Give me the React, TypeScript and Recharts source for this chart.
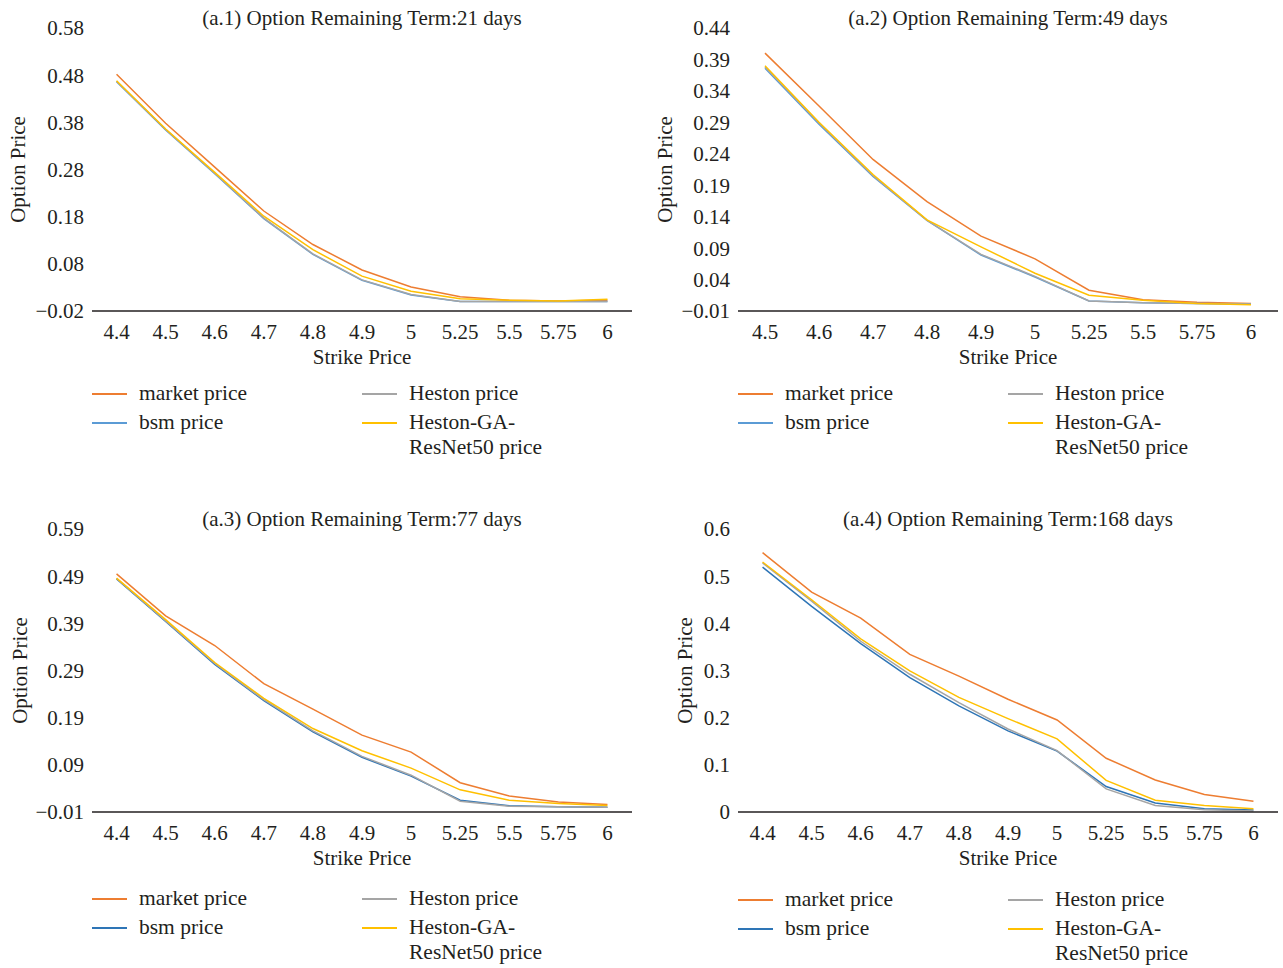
import React from "react";
import { LineChart, Line, XAxis, YAxis } from "recharts";

// strike prices on the x axis
const strikesA = ["4.4", "4.5", "4.6", "4.7", "4.8", "4.9", "5", "5.25", "5.5", "5.75", "6"];
const strikesB = ["4.5", "4.6", "4.7", "4.8", "4.9", "5", "5.25", "5.5", "5.75", "6"];

// (a.1) 21 days
const market21 = [0.482, 0.378, 0.285, 0.192, 0.121, 0.067, 0.031, 0.010, 0.003, 0.001, 0.003];
const bsm21 = [0.466, 0.364, 0.271, 0.176, 0.100, 0.045, 0.014, 0.000, 0.000, 0.000, 0.000];
const heston21 = [0.467, 0.365, 0.272, 0.177, 0.101, 0.046, 0.015, 0.000, 0.000, 0.000, 0.000];
const ga21 = [0.468, 0.366, 0.274, 0.181, 0.110, 0.054, 0.022, 0.006, 0.003, 0.001, 0.005];
const ticks21 = [-0.02, 0.08, 0.18, 0.28, 0.38, 0.48, 0.58];

// (a.2) 49 days
const market49 = [0.400, 0.316, 0.231, 0.164, 0.109, 0.073, 0.023, 0.008, 0.004, 0.002];
const bsm49 = [0.376, 0.287, 0.204, 0.134, 0.079, 0.044, 0.006, 0.003, 0.002, 0.001];
const heston49 = [0.378, 0.289, 0.205, 0.134, 0.080, 0.045, 0.006, 0.003, 0.002, 0.001];
const ga49 = [0.380, 0.290, 0.207, 0.135, 0.092, 0.050, 0.015, 0.007, 0.002, 0.000];
const ticks49 = [-0.01, 0.04, 0.09, 0.14, 0.19, 0.24, 0.29, 0.34, 0.39, 0.44];

// (a.3) 77 days
const market77 = [0.495, 0.406, 0.343, 0.262, 0.208, 0.153, 0.117, 0.052, 0.024, 0.011, 0.006];
const bsm77 = [0.484, 0.394, 0.303, 0.226, 0.160, 0.106, 0.066, 0.015, 0.003, 0.001, 0.000];
const heston77 = [0.485, 0.395, 0.305, 0.228, 0.162, 0.108, 0.068, 0.013, 0.002, 0.001, 0.000];
const ga77 = [0.486, 0.398, 0.307, 0.231, 0.167, 0.120, 0.083, 0.037, 0.015, 0.008, 0.004];
const ticks77 = [-0.01, 0.09, 0.19, 0.29, 0.39, 0.49, 0.59];

// (a.4) 168 days
const market168 = [0.550, 0.466, 0.411, 0.334, 0.288, 0.239, 0.195, 0.114, 0.068, 0.037, 0.023];
const bsm168 = [0.519, 0.436, 0.357, 0.285, 0.225, 0.172, 0.129, 0.054, 0.019, 0.007, 0.004];
const heston168 = [0.528, 0.447, 0.362, 0.292, 0.232, 0.176, 0.130, 0.049, 0.014, 0.005, 0.002];
const ga168 = [0.530, 0.450, 0.367, 0.299, 0.243, 0.198, 0.155, 0.067, 0.025, 0.014, 0.007];
const ticks168 = [0, 0.1, 0.2, 0.3, 0.4, 0.5, 0.6];

const seriesNames = ["market price", "bsm price", "Heston price", "Heston-GA-ResNet50 price"];

const FONT = "'Liberation Serif', 'Times New Roman', serif";
const INK = "#231f20";
const ORANGE = "#ED7D31";
const GREY = "#A5A5A5";
const GOLD = "#FFC000";
const PLOT_W = 540;

const fmtTick = (v: number) => (v < 0 ? "\u2212" : "") + String(Math.round(Math.abs(v) * 100) / 100);

function build(strikes: string[], m: number[], b: number[], h: number[], g: number[]) {
  return strikes.map((k, i) => ({ k, market: m[i], bsm: b[i], heston: h[i], ga: g[i] }));
}

type PanelProps = {
  left: number;
  top: number;
  width: number;
  title: string;
  data: any[];
  ticks: number[];
  blue: string;
  yLabelX: number;
  legendTop: number;
};

function Panel({ left, top, width, title, data, ticks, blue, yLabelX, legendTop }: PanelProps) {
  const colors = [ORANGE, blue, GREY, GOLD];
  const half = PLOT_W / data.length / 2;
  const legend = [
    { name: seriesNames[0], color: colors[0], x: 92, y: legendTop },
    { name: seriesNames[1], color: colors[1], x: 92, y: legendTop + 29 },
    { name: seriesNames[2], color: colors[2], x: 362, y: legendTop },
    { name: seriesNames[3], color: colors[3], x: 362, y: legendTop + 29 },
  ];
  return (
    <div style={{ position: "absolute", left, top, width, height: 470 }}>
      <div style={{ position: "absolute", left: 92, width: PLOT_W, top: 5, textAlign: "center", fontSize: 21, lineHeight: "26px", color: INK }}>
        {title}
      </div>
      <LineChart width={width} height={380} data={data} margin={{ top: 28, right: width - 92 - PLOT_W, left: 0, bottom: 0 }}>
        <XAxis
          dataKey="k"
          interval={0}
          padding={{ left: half, right: half }}
          tickLine={false}
          axisLine={{ stroke: INK, strokeWidth: 1.5 }}
          tick={{ fontSize: 21, fill: INK, fontFamily: FONT }}
          tickMargin={7}
          height={69}
          label={{ value: "Strike Price", position: "insideBottom", offset: 16, fontSize: 21, fill: INK, fontFamily: FONT }}
        />
        <YAxis
          width={92}
          domain={[ticks[0], ticks[ticks.length - 1]]}
          ticks={ticks}
          interval={0}
          tickFormatter={fmtTick}
          tickLine={false}
          axisLine={false}
          tickSize={0}
          tickMargin={8}
          tick={{ fontSize: 21, fill: INK, fontFamily: FONT }}
          label={(p: any) => {
            const vb = p.viewBox || { y: 28, height: 283 };
            const cy = vb.y + vb.height / 2;
            return (
              <text x={yLabelX} y={cy} transform={`rotate(-90 ${yLabelX} ${cy})`} textAnchor="middle" dominantBaseline="central" fontSize={21} fill={INK} fontFamily={FONT}>
                Option Price
              </text>
            );
          }}
        />
        <Line type="linear" dataKey="market" stroke={colors[0]} strokeWidth={1.5} dot={false} isAnimationActive={false} />
        <Line type="linear" dataKey="bsm" stroke={colors[1]} strokeWidth={1.5} dot={false} isAnimationActive={false} />
        <Line type="linear" dataKey="heston" stroke={colors[2]} strokeWidth={1.5} dot={false} isAnimationActive={false} />
        <Line type="linear" dataKey="ga" stroke={colors[3]} strokeWidth={1.5} dot={false} isAnimationActive={false} />
      </LineChart>
      {legend.map((l) => (
        <div key={l.name} style={{ position: "absolute", left: l.x, top: l.y - 12, display: "flex", alignItems: "flex-start" }}>
          <div style={{ width: 35, height: 1.5, background: l.color, marginTop: 12, marginRight: 12 }} />
          <div style={{ fontSize: 21.5, lineHeight: "25px", color: INK, width: 150 }}>{l.name}</div>
        </div>
      ))}
    </div>
  );
}

export default function App() {
  return (
    <div style={{ position: "absolute", left: 0, top: 0, width: 1283, height: 968, background: "#fff", fontFamily: FONT }}>
      <Panel left={0} top={0} width={640} title="(a.1) Option Remaining Term:21 days"
        data={build(strikesA, market21, bsm21, heston21, ga21)} ticks={ticks21} blue="#5B9BD5" yLabelX={18} legendTop={393} />
      <Panel left={646} top={0} width={637} title="(a.2) Option Remaining Term:49 days"
        data={build(strikesB, market49, bsm49, heston49, ga49)} ticks={ticks49} blue="#5B9BD5" yLabelX={19} legendTop={393} />
      <Panel left={0} top={501} width={640} title="(a.3) Option Remaining Term:77 days"
        data={build(strikesA, market77, bsm77, heston77, ga77)} ticks={ticks77} blue="#2E75B6" yLabelX={20} legendTop={397} />
      <Panel left={646} top={501} width={637} title="(a.4) Option Remaining Term:168 days"
        data={build(strikesA, market168, bsm168, heston168, ga168)} ticks={ticks168} blue="#2E75B6" yLabelX={39} legendTop={398} />
    </div>
  );
}
